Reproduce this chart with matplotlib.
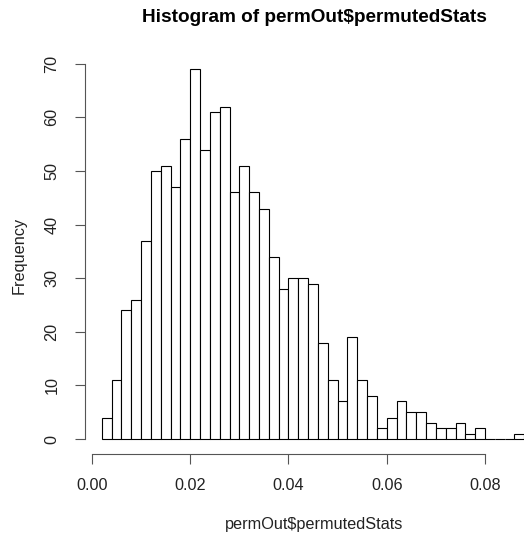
import numpy as np
import matplotlib.pyplot as plt

plt.rcParams['font.family'] = ['Liberation Sans', 'DejaVu Sans']

# histogram breaks (first break and bin width) and counts per bin
bin_start = 0.002
bin_width = 0.002
counts = [4, 11, 24, 26, 37, 50, 51, 47, 56, 69, 54, 61, 62, 46, 51, 46, 43, 34,
          28, 30, 30, 29, 18, 11, 7, 19, 11, 8, 2, 4, 7, 5, 5, 3, 2, 2, 3, 1, 2,
          0, 0, 0, 1]
x_ticks = [0.00, 0.02, 0.04, 0.06, 0.08]
x_labels = ["0.00", "0.02", "0.04", "0.06", "0.08"]
y_ticks = [0, 10, 20, 30, 40, 50, 60, 70]

left_edges = bin_start + bin_width * np.arange(len(counts))

W, H = 524, 535
fig = plt.figure(figsize=(W / 100, H / 100), dpi=100)
# plot region in pixels (R-style, extends past the right edge of the image)
px_l, px_r, px_t, px_b = 84.9, 541.2, 54.4, 453.8
ax = fig.add_axes([px_l / W, (H - px_b) / H, (px_r - px_l) / W, (px_b - px_t) / H])

ax.bar(left_edges, counts, width=bin_width, align='edge',
       facecolor='white', edgecolor='black', linewidth=0.8)

# R pads the data range by 4 % on each side
x_lo, x_hi = bin_start, bin_start + bin_width * len(counts)
dx = 0.04 * (x_hi - x_lo)
ax.set_xlim(x_lo - dx, x_hi + dx)
y_hi = max(counts)
ax.set_ylim(-0.04 * y_hi, y_hi * 1.04)

for s in ['top', 'right']:
    ax.spines[s].set_visible(False)
ax.spines['left'].set_bounds(y_ticks[0], y_ticks[-1])
ax.spines['bottom'].set_bounds(x_ticks[0], x_ticks[-1])
for s in ['left', 'bottom']:
    ax.spines[s].set_color('#555555')
    ax.spines[s].set_linewidth(0.8)

ax.set_xticks(x_ticks)
ax.set_xticklabels(x_labels)
ax.set_yticks(y_ticks)
ax.set_yticklabels([str(v) for v in y_ticks], rotation=90, va='center')
ax.tick_params(axis='both', length=7.2, width=0.8, color='#555555',
               labelsize=11.7, labelcolor='#222222')
ax.tick_params(axis='x', pad=10)
ax.tick_params(axis='y', pad=11)

fig.text(314 / W, 1 - 17 / H, "Histogram of permOut$permutedStats",
         ha='center', va='center', fontsize=13.7, fontweight='bold')
fig.text(314 / W, 1 - 524 / H, "permOut$permutedStats",
         ha='center', va='center', fontsize=11.7, color='#222222')
fig.text(19 / W, 1 - 255 / H, "Frequency", rotation=90,
         ha='center', va='center', fontsize=11.7, color='#222222')

fig.savefig("out.png", dpi=100)
